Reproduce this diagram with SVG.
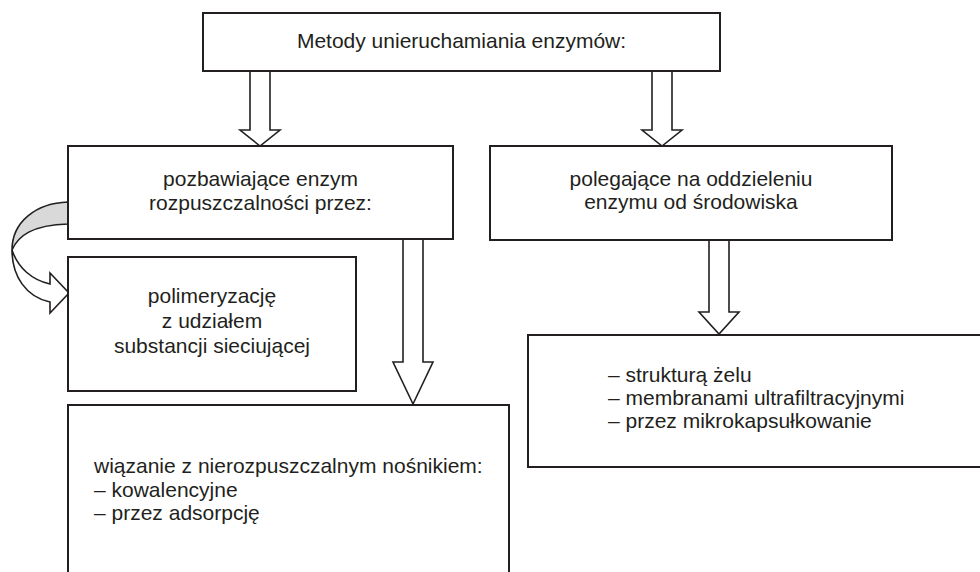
<svg xmlns="http://www.w3.org/2000/svg" width="980" height="572" viewBox="0 0 980 572">
<style>
.box{fill:#fff;stroke:#231f20;stroke-width:2}
.arr{fill:#fff;stroke:#231f20;stroke-width:1.6;stroke-linejoin:miter}
.t{font-family:"Liberation Sans",Arial,sans-serif;font-size:21px;fill:#231f20}
.c{text-anchor:middle}
</style>
<rect width="980" height="572" fill="#fff"/>
<g id="connectors">
<path class="arr" d="M250,71 L250,130 L240,130 L260,146 L280,130 L270,130 L270,71"/>
<path class="arr" d="M652,71 L652,130 L642,130 L662,146 L682,130 L672,130 L672,71"/>
<path class="arr" d="M403,239 L403,362 L393,362 L413,404 L433,362 L423,362 L423,239"/>
<path class="arr" d="M709,240 L709,312 L699,312 L719,334 L739,312 L729,312 L729,240"/>
<g id="curved-arrow">
<path d="M68,202 C36,203 12,222 12,250 C18,236 32,225 68,224 Z" fill="#d9d9d9" stroke="#231f20" stroke-width="1.6" stroke-linejoin="round"/>
<path d="M12,250 C18,268 32,280 50,284 L50,273 L69,293 L50,313 L50,302 C26,297 12,276 12,250 Z" fill="#fff" stroke="#231f20" stroke-width="1.6" stroke-linejoin="miter"/>
</g>
</g>
<g id="node-top">
<rect class="box" x="203" y="13" width="517" height="58"/>
<text class="t c" x="461.5" y="48">Metody unieruchamiania enzymów:</text>
</g>
<g id="node-pozbawiajace">
<rect class="box" x="68" y="146" width="385" height="93"/>
<text class="t c" x="260.5" y="186">pozbawiające enzym</text>
<text class="t c" x="260.5" y="210">rozpuszczalności przez:</text>
</g>
<g id="node-polegajace">
<rect class="box" x="490" y="146" width="402" height="94"/>
<text class="t c" x="691" y="186">polegające na oddzieleniu</text>
<text class="t c" x="691" y="209">enzymu od środowiska</text>
</g>
<g id="node-polimeryzacje">
<rect class="box" x="68" y="257" width="288" height="134"/>
<text class="t c" x="212" y="303">polimeryzację</text>
<text class="t c" x="212" y="328">z udziałem</text>
<text class="t c" x="212" y="353">substancji sieciującej</text>
</g>
<g id="node-wiazanie">
<rect class="box" x="68" y="405" width="441" height="200"/>
<text class="t" x="94" y="473">wiązanie z nierozpuszczalnym nośnikiem:</text>
<text class="t" x="94" y="497">– kowalencyjne</text>
<text class="t" x="94" y="520">– przez adsorpcję</text>
</g>
<g id="node-oddzielenie">
<rect class="box" x="528" y="335" width="470" height="132"/>
<text class="t" x="608" y="382">– strukturą żelu</text>
<text class="t" x="608" y="405">– membranami ultrafiltracyjnymi</text>
<text class="t" x="608" y="428">– przez mikrokapsułkowanie</text>
</g>
</svg>
